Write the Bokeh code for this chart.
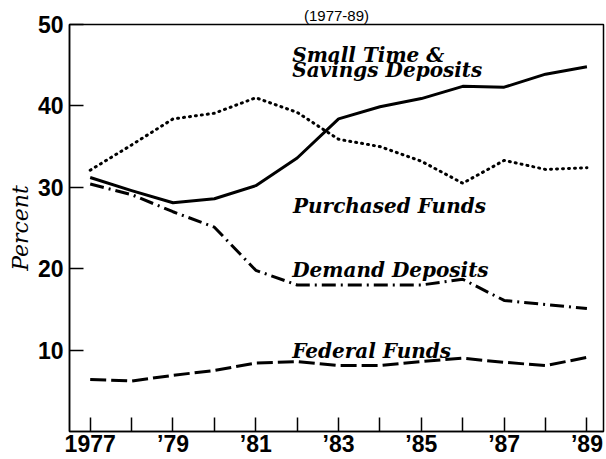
from bokeh.plotting import figure
from bokeh.models import Range1d, FixedTicker, Label
from bokeh.embed import file_html
from bokeh.resources import INLINE

years = [1977, 1978, 1979, 1980, 1981, 1982, 1983, 1984, 1985, 1986, 1987, 1988, 1989]
small_time_savings = [31.2, 29.6, 28.1, 28.6, 30.2, 33.6, 38.4, 39.9, 40.9, 42.4, 42.3, 43.9, 44.8]
purchased_funds = [32.1, 35.2, 38.4, 39.1, 41.0, 39.2, 35.9, 35.0, 33.2, 30.5, 33.3, 32.2, 32.4]
demand_deposits = [30.4, 29.1, 27.0, 25.1, 19.8, 18.0, 18.0, 18.0, 18.0, 18.7, 16.1, 15.6, 15.1]
federal_funds = [6.4, 6.2, 6.9, 7.5, 8.4, 8.6, 8.1, 8.1, 8.6, 9.0, 8.5, 8.1, 9.1]

x_tick_labels = {1977: "1977", 1978: "", 1979: "\u201979", 1980: "", 1981: "\u201981", 1982: "",
                 1983: "\u201983", 1984: "", 1985: "\u201985", 1986: "", 1987: "\u201987",
                 1988: "", 1989: "\u201989"}
y_ticks = [10, 20, 30, 40, 50]

title_text = "(1977-89)"
y_label = "Percent"
series_labels = [
    ("Small Time &", 1981.88, 46.3),
    ("Savings Deposits", 1981.88, 44.35),
    ("Purchased Funds", 1981.9, 27.75),
    ("Demand Deposits", 1981.88, 19.85),
    ("Federal Funds", 1981.88, 9.85),
]

X0, X1 = 1976.5, 1989.4
p = figure(width=606, height=459, output_backend="svg", toolbar_location=None,
           x_range=Range1d(X0, X1), y_range=Range1d(0, 50),
           min_border_left=69, min_border_right=3, min_border_top=24, min_border_bottom=25,
           background_fill_color="white", border_fill_color="white",
           title=title_text)
p.title.align = "center"
p.title.text_font = "Liberation Sans"
p.title.text_font_style = "normal"
p.title.text_font_size = "15px"
p.title.text_color = "black"
p.title.standoff = 2
p.title.offset = 0

p.grid.visible = False
p.outline_line_color = "black"
p.outline_line_width = 1.5

serif = "DejaVu Serif"
sans = "Liberation Sans"

for ax in (p.xaxis[0], p.yaxis[0]):
    ax.axis_line_color = "black"
    ax.axis_line_width = 1.5
    ax.major_tick_line_color = "black"
    ax.major_tick_line_width = 1.5
    ax.major_tick_in = 14
    ax.major_tick_out = 0
    ax.minor_tick_line_color = None
    ax.major_label_text_font = sans
    ax.major_label_text_font_style = "bold"
    ax.major_label_text_font_size = "23px"
    ax.major_label_text_color = "black"

p.xaxis.ticker = FixedTicker(ticks=years)
p.xaxis.major_label_overrides = x_tick_labels
p.xaxis.major_label_standoff = -1

p.yaxis.ticker = FixedTicker(ticks=y_ticks)
p.yaxis.major_label_standoff = 6
p.yaxis.axis_label = y_label
p.yaxis.axis_label_text_font = serif
p.yaxis.axis_label_text_font_style = "italic"
p.yaxis.axis_label_text_font_size = "22px"
p.yaxis.axis_label_text_color = "black"
p.yaxis.axis_label_standoff = 2

p.line(years, small_time_savings, line_color="black", line_width=3, line_join="round")
p.line(years, purchased_funds, line_color="black", line_width=3, line_dash="1 5", line_cap="round")
p.line(years, demand_deposits, line_color="black", line_width=3, line_dash="14 5 2 5")
p.line(years, federal_funds, line_color="black", line_width=3, line_dash="16 5")

for txt, x, y in series_labels:
    p.add_layout(Label(x=x, y=y, text=txt, text_font=serif, text_font_style="bold italic",
                       text_font_size="20px", text_color="black",
                       text_align="left", text_baseline="alphabetic"))

open("out.html", "w").write(file_html(p, INLINE))
